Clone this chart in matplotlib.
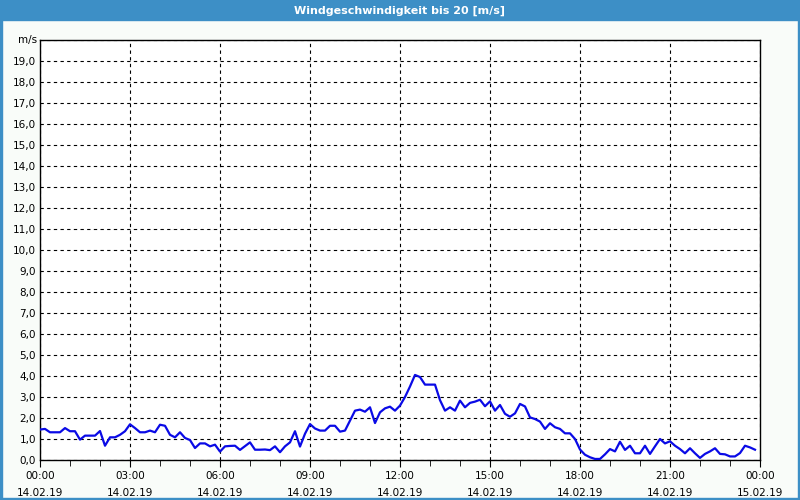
import numpy as np
import pandas as pd
import matplotlib
matplotlib.use("Agg")
from matplotlib import pyplot as plt
import matplotlib.dates as mdates
from matplotlib.patches import Rectangle
from matplotlib.ticker import FuncFormatter, MultipleLocator

# wind speed in m/s, 10 minute steps from 14.02.19 00:00
speed = [
    1.45, 1.48, 1.32, 1.32, 1.32, 1.52, 1.37, 1.37, 0.97, 1.16,
    1.16, 1.16, 1.38, 0.68, 1.08, 1.08, 1.20, 1.37, 1.70, 1.52,
    1.32, 1.32, 1.40, 1.32, 1.68, 1.63, 1.20, 1.08, 1.32, 1.05,
    0.95, 0.57, 0.79, 0.79, 0.65, 0.73, 0.40, 0.65, 0.67, 0.68,
    0.48, 0.66, 0.84, 0.49, 0.49, 0.50, 0.47, 0.65, 0.37, 0.65,
    0.84, 1.37, 0.64, 1.25, 1.71, 1.50, 1.40, 1.40, 1.63, 1.63,
    1.35, 1.40, 1.87, 2.35, 2.40, 2.30, 2.51, 1.76, 2.27, 2.46,
    2.54, 2.35, 2.59, 3.00, 3.50, 4.05, 3.95, 3.59, 3.59, 3.59,
    2.85, 2.35, 2.51, 2.35, 2.83, 2.51, 2.72, 2.78, 2.87, 2.56,
    2.79, 2.35, 2.62, 2.20, 2.06, 2.22, 2.67, 2.55, 2.03, 1.95,
    1.83, 1.48, 1.75, 1.56, 1.48, 1.27, 1.27, 1.00, 0.50, 0.25,
    0.13, 0.05, 0.05, 0.27, 0.52, 0.41, 0.87, 0.48, 0.68, 0.32,
    0.32, 0.68, 0.29, 0.65, 1.00, 0.79, 0.89, 0.68, 0.52, 0.32,
    0.56, 0.32, 0.10, 0.29, 0.41, 0.56, 0.29, 0.27, 0.17, 0.17,
    0.33, 0.68, 0.60, 0.49,
]
times = pd.date_range("2019-02-14 00:00", periods=len(speed), freq="10min")
start = pd.Timestamp("2019-02-14 00:00")
end = pd.Timestamp("2019-02-15 00:00")
title = "Windgeschwindigkeit bis 20 [m/s]"
unit = "m/s"

blue_frame = "#3d8fc6"

fig = plt.figure(figsize=(8, 5), dpi=100)
fig.patch.set_facecolor("#f9fcf9")

# window frame and title bar
fig.patches.append(Rectangle((0, 1 - 20 / 500), 1, 20 / 500, transform=fig.transFigure,
                             color=blue_frame, zorder=0))
fig.patches.append(Rectangle((0, 0), 2 / 800, 1, transform=fig.transFigure, color=blue_frame, zorder=0))
fig.patches.append(Rectangle((1 - 2 / 800, 0), 2 / 800, 1, transform=fig.transFigure, color=blue_frame, zorder=0))
fig.patches.append(Rectangle((0, 0), 1, 2 / 500, transform=fig.transFigure, color=blue_frame, zorder=0))
fig.text(0.5, 1 - 10.5 / 500, title, color="white", fontsize=8, fontweight="bold",
         ha="center", va="center")

ax = fig.add_axes([40 / 800, 40 / 500, 720 / 800, 420 / 500])
ax.set_facecolor("white")
ax.plot(times, speed, color="#0a0ae6", linewidth=1.6, zorder=3)

ax.set_xlim(start, end)
ax.set_ylim(0, 20)

ax.yaxis.set_major_locator(MultipleLocator(1))
ax.yaxis.set_major_formatter(FuncFormatter(
    lambda v, p: "" if v >= 20 else ("%.1f" % v).replace(".", ",")))
ax.xaxis.set_major_locator(mdates.HourLocator(interval=3))
ax.xaxis.set_minor_locator(mdates.HourLocator(interval=1))
ax.xaxis.set_major_formatter(mdates.DateFormatter("%H:%M\n%d.%m.%y"))

ax.grid(True, which="major", color="black", linestyle=(0, (3, 3)), linewidth=0.8)
ax.tick_params(axis="y", length=0, labelsize=7.5, pad=3)
ax.tick_params(axis="x", which="major", length=5, labelsize=7.5, pad=3)
ax.tick_params(axis="x", which="minor", length=4)
for lbl in ax.get_xticklabels():
    lbl.set_linespacing(1.9)
for s in ax.spines.values():
    s.set_linewidth(1.0)

ax.text(-0.004, 20, unit, transform=ax.get_yaxis_transform(), ha="right", va="center",
        fontsize=7.5)

fig.savefig("out.png", dpi=100, facecolor=fig.get_facecolor())
